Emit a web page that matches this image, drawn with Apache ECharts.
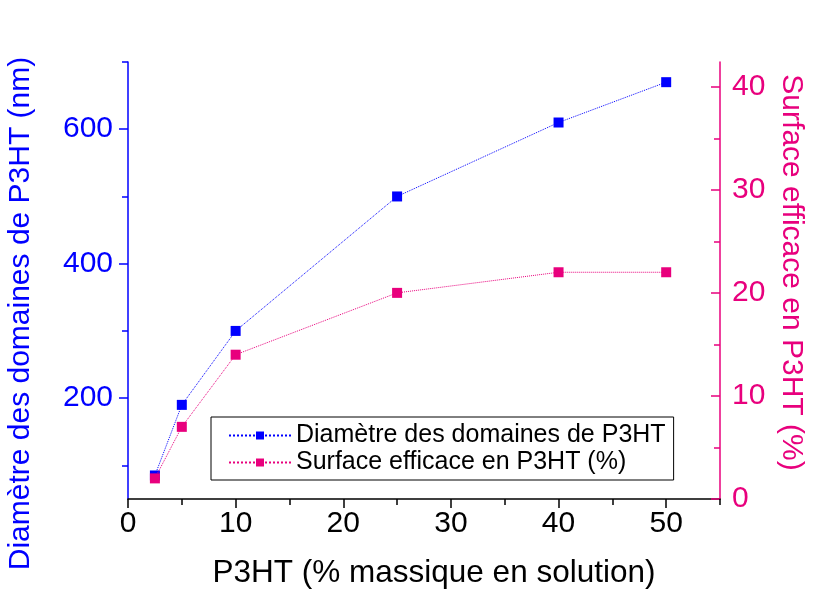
<!DOCTYPE html>
<html><head><meta charset="utf-8">
<script src="https://cdn.jsdelivr.net/npm/echarts@6/dist/echarts.min.js"></script>
<style>html,body{margin:0;padding:0;background:#fff}#c{width:813px;height:592px}</style>
</head><body><div id="c"></div>
<script>
const xValues = [2.5, 5, 10, 25, 40, 50];
const diameter = [85, 190, 300, 500, 610, 670];
const surface = [2, 7, 14, 20, 22, 22];
const xLabels = [0, 10, 20, 30, 40, 50];
const xMinor = [5, 15, 25, 35, 45, 55];
const leftLabels = [200, 400, 600];
const leftMinor = [100, 300, 500, 700];
const rightLabels = [0, 10, 20, 30, 40];
const rightMinor = [5, 15, 25, 35];
const names = ['Diamètre des domaines de P3HT', 'Surface efficace en P3HT (%)'];

const BLUE = '#0000ff', PINK = '#e8007d';
const FONT = 'Liberation Sans, Arial, sans-serif';
const chart = echarts.init(document.getElementById('c'));
const G = {left: 128, right: 93, top: 62, bottom: 93, containLabel: false, outerBoundsMode: 'none'};
const LMIN = 50, LMAX = 700, RMIN = 0, RMAX = 42.4, XMIN = 0, XMAX = 55;

chart.setOption({
  animation: false,
  grid: [Object.assign({}, G), Object.assign({}, G)],
  legend: {
    orient: 'vertical', left: 211, top: 417,
    padding: [6, 8, 5, 17],
    borderColor: '#000', borderWidth: 1,
    itemWidth: 62, itemHeight: 10, itemGap: 2,
    textStyle: {fontFamily: FONT, fontSize: 25, color: '#000'},
    data: names
  },
  xAxis: [
    {type: 'value', gridIndex: 0, min: XMIN, max: XMAX, position: 'bottom',
     name: 'P3HT (% massique en solution)', nameLocation: 'middle', nameGap: 58,
     nameTextStyle: {fontFamily: FONT, fontSize: 31.5, color: '#000', padding: [0, 0, 0, 20]},
     axisLine: {lineStyle: {color: '#000', width: 1.5}},
     axisTick: {customValues: xLabels, length: 9, lineStyle: {color: '#000', width: 1.5}},
     axisLabel: {customValues: xLabels, fontFamily: FONT, fontSize: 30, color: '#000', margin: 10},
     splitLine: {show: false}},
    {type: 'value', gridIndex: 1, min: XMIN, max: XMAX, position: 'bottom',
     axisLine: {show: false},
     axisTick: {customValues: xMinor, length: 6, lineStyle: {color: '#000', width: 1.5}},
     axisLabel: {show: false}, splitLine: {show: false}}
  ],
  yAxis: [
    {type: 'value', gridIndex: 0, min: LMIN, max: LMAX, position: 'left',
     name: 'Diamètre des domaines de P3HT (nm)', nameLocation: 'middle', nameGap: 92,
     nameTextStyle: {fontFamily: FONT, fontSize: 30, color: BLUE, padding: [0, 66, 0, 0]},
     axisLine: {lineStyle: {color: BLUE, width: 1.5}},
     axisTick: {customValues: leftLabels, length: 9, lineStyle: {color: BLUE, width: 1.5}},
     axisLabel: {customValues: leftLabels, fontFamily: FONT, fontSize: 30, color: BLUE, margin: 15},
     splitLine: {show: false}},
    {type: 'value', gridIndex: 0, min: RMIN, max: RMAX, position: 'right',
     name: 'Surface efficace en P3HT (%)', nameLocation: 'middle', nameGap: 56, nameRotate: -90,
     nameTextStyle: {fontFamily: FONT, fontSize: 30, color: PINK, padding: [0, 16, 0, 0]},
     axisLine: {lineStyle: {color: PINK, width: 1.5}},
     axisTick: {customValues: rightLabels, inside: true, length: 9, lineStyle: {color: PINK, width: 1.5}},
     axisLabel: {customValues: rightLabels, fontFamily: FONT, fontSize: 30, color: PINK, margin: 12},
     splitLine: {show: false}},
    {type: 'value', gridIndex: 1, min: LMIN, max: LMAX, position: 'left',
     axisLine: {show: false},
     axisTick: {customValues: leftMinor, length: 6, lineStyle: {color: BLUE, width: 1.5}},
     axisLabel: {show: false}, splitLine: {show: false}},
    {type: 'value', gridIndex: 1, min: RMIN, max: RMAX, position: 'right',
     axisLine: {show: false},
     axisTick: {customValues: rightMinor, inside: true, length: 6, lineStyle: {color: PINK, width: 1.5}},
     axisLabel: {show: false}, splitLine: {show: false}}
  ],
  series: [
    {name: names[0], type: 'line', xAxisIndex: 0, yAxisIndex: 0,
     data: xValues.map((x, i) => [x, diameter[i]]),
     symbol: 'rect', symbolSize: 10, color: BLUE,
     lineStyle: {type: 'dotted', width: 1, color: BLUE},
     itemStyle: {color: BLUE}, z: 2},
    {name: names[1], type: 'line', xAxisIndex: 0, yAxisIndex: 1,
     data: xValues.map((x, i) => [x, surface[i]]),
     symbol: 'rect', symbolSize: 10, color: PINK,
     lineStyle: {type: 'dotted', width: 1, color: PINK},
     itemStyle: {color: PINK}, z: 3}
  ]
});
</script></body></html>
